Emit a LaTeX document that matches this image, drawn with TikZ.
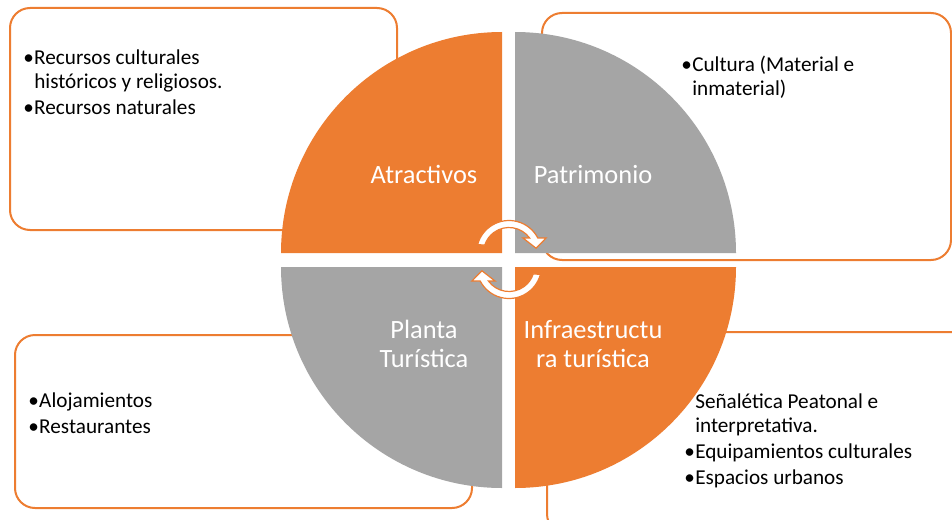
\documentclass[tikz,border=0pt]{standalone}
\usepackage{fontspec}
\setmainfont{Carlito}
\usepackage{xcolor}
\usepackage{tikz}
\usetikzlibrary{positioning}
\definecolor{corange}{HTML}{ED7D31}
\definecolor{cgray}{HTML}{A5A5A5}
\newcommand{\blist}[1]{\begin{tabular}[t]{@{}p{8.25pt}@{}l@{}}#1\end{tabular}}
\newcommand{\twoline}[1]{\begin{tabular}[t]{@{}c@{}}#1\end{tabular}}

\begin{document}
\begin{tikzpicture}[x=0.75pt, y=0.75pt,
      panel/.style={draw=corange, line width=1.5pt, rounded corners=15pt, fill=white},
      lbl/.style={text=white, inner sep=0pt, anchor=base, font=\fontsize{19.8}{21.75}\selectfont},
      txt/.style={inner sep=0pt, anchor=base west, font=\fontsize{15.9}{18}\selectfont},
      cyc/.style={draw=corange, fill=white, line width=0.9pt, line join=miter}
    ]
    \useasboundingbox (0,0) rectangle (952,519);
    % panels behind the circle
    \draw[panel] (10,289) rectangle (397,511);
    \draw[panel] (542,259) rectangle (951,506);
    \draw[panel] (15,11) rectangle (472,184);
    \draw[panel] (547,-15) rectangle (970,187);
    \node[txt] (tlt) at (23,455) {\blist{•&Recursos culturales\\ &históricos y religiosos.\\[1.5pt] •&Recursos naturales}};
    \node[txt] (trt) at (681,448) {\blist{•&Cultura (Material e\\ &inmaterial)}};
    \node[txt] (blt) at (28,112) {\blist{•&Alojamientos\\[1.5pt] •&Restaurantes}};
    \node[txt] (brt) at (684,111) {\blist{&Señalética Peatonal e\\ &interpretativa.\\[1.5pt] •&Equipamientos culturales\\[2pt] •&Espacios urbanos}};
    % quadrants
    \fill[corange] (502,266) -- (281,266) arc[start angle=180, end angle=90, radius=221] -- cycle;
    \fill[cgray] (515,266) -- (736,266) arc[start angle=0, end angle=90, radius=221] -- cycle;
    \fill[cgray] (502,252) -- (281,252) arc[start angle=180, end angle=270, radius=221] -- cycle;
    \fill[corange] (515,252) -- (736,252) arc[start angle=0, end angle=-90, radius=221] -- cycle;
    \node[lbl] (atr) at (424,336) {Atractivos};
    \node[lbl] (pat) at (593,336) {Patrimonio};
    \node[lbl] (pla) at (424,181) {\twoline{Planta\\Turística}};
    \node[lbl] (inf) at (593,181) {\twoline{Infraestructu\\ra turística}};
    % cycle arrows
    \coordinate (cu) at (509,266);
    \coordinate (cl) at (509,253);
    \draw[cyc] ([shift={(165:32.5)}]cu) arc[start angle=165, end angle=27.5, radius=32.5]
      -- ([shift={(22:40)}]cu) -- ([shift={(10:27.5)}]cu) -- ([shift={(47:20.5)}]cu)
      -- ([shift={(36:25.5)}]cu) arc[start angle=36, end angle=162, radius=25.5] -- cycle;
    \draw[cyc] ([shift={(345:32.5)}]cl) arc[start angle=345, end angle=207.5, radius=32.5]
      -- ([shift={(202:40)}]cl) -- ([shift={(190:27.5)}]cl) -- ([shift={(227:20.5)}]cl)
      -- ([shift={(216:25.5)}]cl) arc[start angle=216, end angle=342, radius=25.5] -- cycle;
  \end{tikzpicture}
\end{document}
